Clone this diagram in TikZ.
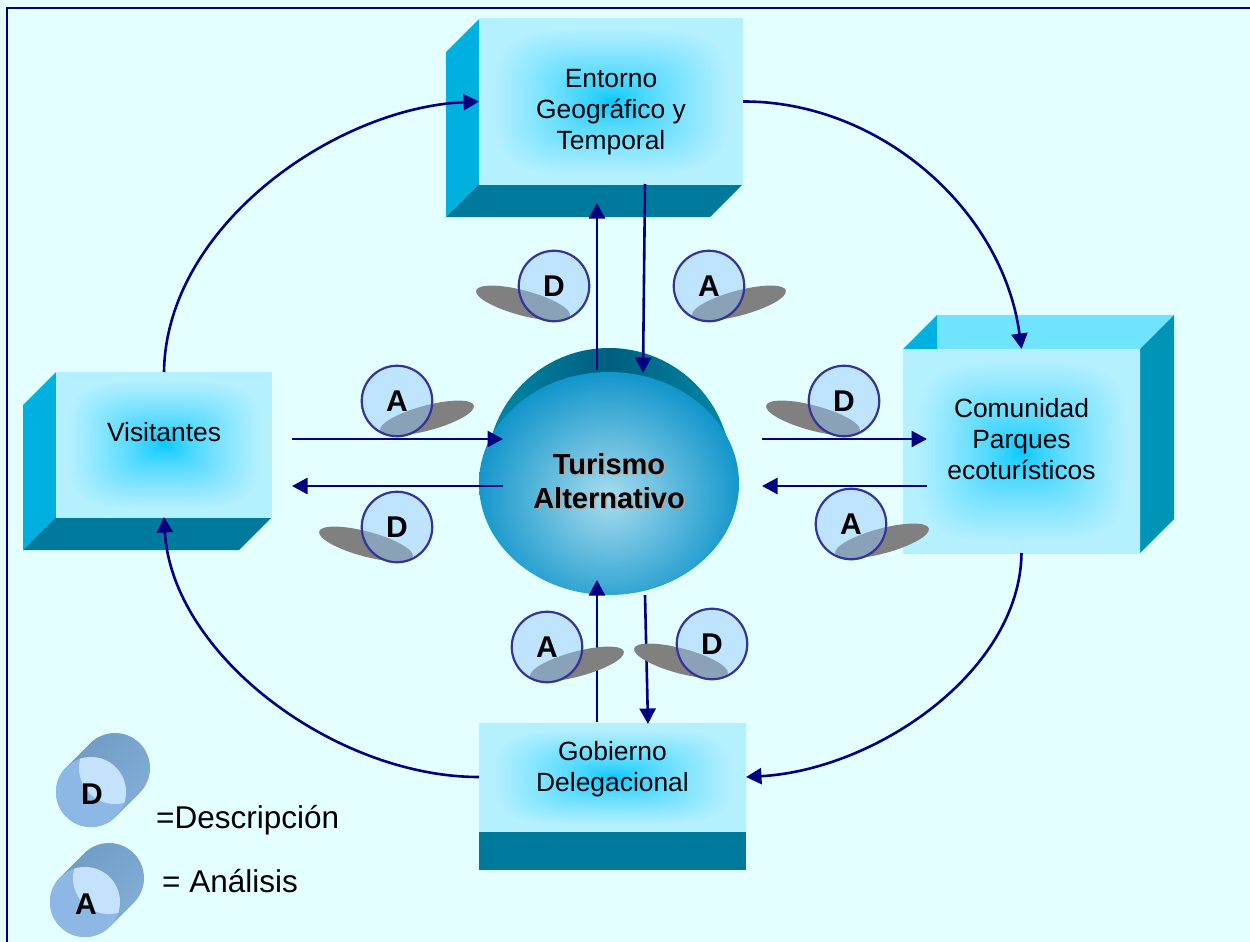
\documentclass[tikz,border=0pt]{standalone}
\usepackage{fontspec}
\setmainfont{Liberation Sans}
\usetikzlibrary{arrows.meta}
\definecolor{bgc}{HTML}{E3FFFF}
\definecolor{navyc}{HTML}{000080}
\definecolor{sidec}{HTML}{00B0DE}
\definecolor{lowc}{HTML}{007A9C}
\definecolor{rightc}{HTML}{0094B6}
\definecolor{topc}{HTML}{70E4FF}
\definecolor{discc}{HTML}{BFE4FF}
\definecolor{ringc}{HTML}{333399}
\definecolor{shadowc}{HTML}{808080}
\definecolor{overc}{HTML}{8AA2B8}
\definecolor{capedge}{HTML}{0088A8}
\definecolor{capmid}{HTML}{005F7F}
\definecolor{ballin}{HTML}{A8DCEE}
\definecolor{ballout}{HTML}{0F94CA}
\definecolor{cyla}{HTML}{6F9AC2}
\definecolor{cylb}{HTML}{8DB5DE}
\definecolor{cylc}{HTML}{84AFD8}
\definecolor{cylfront}{HTML}{8DB8E6}
\definecolor{cyllens}{HTML}{C4E2FB}
\definecolor{txtshadow}{HTML}{B0AAA0}
\pgfdeclarefunctionalshading{boxglow}{\pgfpoint{0bp}{0bp}}{\pgfpoint{100bp}{100bp}}{}{
  50 sub 25 div dup mul dup mul exch 50 sub 25 div dup mul dup mul add
  sqrt sqrt
  1.12 mul dup 1 gt {pop 1} if 0.7 exp
  dup 0.71 mul exch dup 0.16 mul 0.78 add exch pop 1
}
\tikzset{
  front/.style={shade,shading=boxglow,draw=none,inner sep=0pt,outer sep=0pt,anchor=center},
  boxtxt/.style={align=center,font=\fontsize{26.4}{31}\selectfont,text=black,inner sep=0pt},
  flow/.style={navyc,line width=2.6pt,-{Triangle[length=15.5pt,width=16pt]}},
  disc/.style={circle,minimum size=70.5pt,inner sep=0pt,font=\bfseries\fontsize{30}{32}\selectfont,draw=ringc,line width=2.2pt},
  lbl/.style={font=\fontsize{31.5}{34}\selectfont,anchor=base west,inner sep=0pt},
  ballfont/.style={align=center,inner sep=0pt,font=\bfseries\fontsize{29}{34.5}\selectfont},
  cylfont/.style={inner sep=0pt,font=\bfseries\fontsize{30}{32}\selectfont},
}
\newcommand{\mybadge}[7]{% name cx cy ex ey angle letter
  \fill[shadowc,rotate around={#6:(#4,#5)}] (#4,#5) ellipse[x radius=48.5,y radius=12.5];
  \fill[discc] (#2,#3) circle[radius=35.5];
  \begin{scope}
    \clip (#2,#3) circle[radius=35.5];
    \fill[overc,rotate around={#6:(#4,#5)}] (#4,#5) ellipse[x radius=48.5,y radius=12.5];
  \end{scope}
  \node[disc] (#1) at (#2,#3) {#7};
}
\newcommand{\mycyl}[5]{% name x y letter lettery
  \begin{scope}[shift={(#2,#3)},yscale=-1]
    \shade[top color=cyla,middle color=cylb,bottom color=cylc,shading angle=45]
      (24.75,-24.75) -- (48.75,-0.75) arc[start angle=-45,end angle=135,radius=35]
      -- (-24.75,24.75) arc[start angle=135,end angle=315,radius=35] -- cycle;
    \fill[cylfront] (0,0) circle[radius=35];
    \begin{scope}
      \clip (0,0) circle[radius=35];
      \fill[cyllens] (24,24) circle[radius=36];
    \end{scope}
  \end{scope}
  \node[cylfont] (#1) at (#2+1,#5) {#4};
}
\begin{document}
\begin{tikzpicture}[x=1pt,y=-1pt]
\useasboundingbox (0,0) rectangle (1250,942);
\fill[bgc] (0,0) rectangle (1250,942);
\draw[navyc,line width=2pt] (7,945) -- (7,8) -- (1253,8);

% Entorno box
\fill[sidec] (479,19) -- (446,52) -- (446,217) -- (479,184) -- cycle;
\fill[lowc] (479,184) -- (446,217) -- (710,217) -- (743,184) -- cycle;
\node[front,minimum width=264pt,minimum height=165pt] (ent) at (611,101.5) {};
\node[boxtxt] (entt) at (611,112.5) {Entorno\\Geográfico y\\Temporal};

% Visitantes box
\fill[sidec] (56,372) -- (23,405) -- (23,550) -- (56,517) -- cycle;
\fill[lowc] (56,517) -- (23,550) -- (239,550) -- (272,517) -- cycle;
\node[front,minimum width=216pt,minimum height=145pt] (vis) at (164,444.5) {};
\node[boxtxt] (vist) at (164,432) {Visitantes};

% Comunidad box
\fill[topc] (937,315) -- (1174,315) -- (1140,349) -- (937,349) -- cycle;
\fill[sidec] (903,349) -- (937,315) -- (937,349) -- cycle;
\fill[rightc] (1140,349) -- (1174,315) -- (1174,519) -- (1140,553) -- cycle;
\node[front,minimum width=237pt,minimum height=204pt] (com) at (1021.5,451) {};
\node[boxtxt] (comt) at (1021.5,439.5) {Comunidad\\Parques\\ecoturísticos};

% Gobierno box
\fill[lowc] (479,831) rectangle (746,870);
\node[front,minimum width=267pt,minimum height=108pt] (gob) at (612.5,777) {};
\node[boxtxt] (gobt) at (612.5,769) {Gobierno\\Delegacional};

% Central sphere
\shade[left color=capedge,right color=capedge,middle color=capmid] (609,470) circle[radius=122];
\begin{scope}
  \clip (609,483.5) ellipse[x radius=130,y radius=111.5];
  \shade[inner color=ballin,outer color=ballout] (609,497) ellipse[x radius=136,y radius=128];
\end{scope}
\node[ballfont,text=txtshadow] (balls) at (610.5,482.2) {Turismo\\Alternativo};
\node[ballfont] (ball) at (609,481) {Turismo\\Alternativo};

% Connector end points
\coordinate (a1s) at (292,439); \coordinate (a1e) at (503,439);
\coordinate (a2s) at (503,486); \coordinate (a2e) at (292,486);
\coordinate (a3s) at (762,439); \coordinate (a3e) at (927,439);
\coordinate (a4s) at (927,486); \coordinate (a4e) at (762,486);
\coordinate (a5s) at (597,370); \coordinate (a5e) at (597,203);
\coordinate (a6s) at (645,184); \coordinate (a6e) at (643,373);
\coordinate (a7s) at (597,722); \coordinate (a7e) at (597,580);
\coordinate (a8s) at (645,595); \coordinate (a8e) at (648,724);

\draw[flow] (a1s) -- (a1e);
\draw[flow] (a2s) -- (a2e);
\draw[flow] (a3s) -- (a3e);
\draw[flow] (a4s) -- (a4e);
\draw[flow] (a5s) -- (a5e);
\draw[flow] (a6s) -- (a6e);
\draw[flow] (a7s) -- (a7e);
\draw[flow] (a8s) -- (a8e);

\draw[flow] (vis.north) .. controls (166,226) and (335,108) .. (ent.west);
\draw[flow] (ent.east) .. controls (880,101) and (1003,210) .. (com.north);
\draw[flow] (com.south) .. controls (1020,672) and (875,770) .. (gob.east);
\draw[flow] (gob.west) .. controls (335,777) and (172,655) .. (vis.south);

% Badges
\mybadge{b1}{554}{286}{523}{303}{-15}{D}
\mybadge{b2}{709}{286}{739}{303}{15}{A}
\mybadge{b3}{397}{401}{427}{418}{15}{A}
\mybadge{b4}{397}{527}{366}{544}{-15}{D}
\mybadge{b5}{844}{401}{813}{418}{-15}{D}
\mybadge{b6}{851}{524}{882}{541}{15}{A}
\mybadge{b7}{547}{647}{577}{664}{15}{A}
\mybadge{b8}{712}{644}{681}{661}{-15}{D}

% Legend
\mycyl{c1}{91}{792}{D}{794}
\mycyl{c2}{85}{902}{A}{904}
\node[lbl] (l1) at (156,828) {=Descripción};
\node[lbl] (l2) at (162,892) {= Análisis};
\end{tikzpicture}
\end{document}
